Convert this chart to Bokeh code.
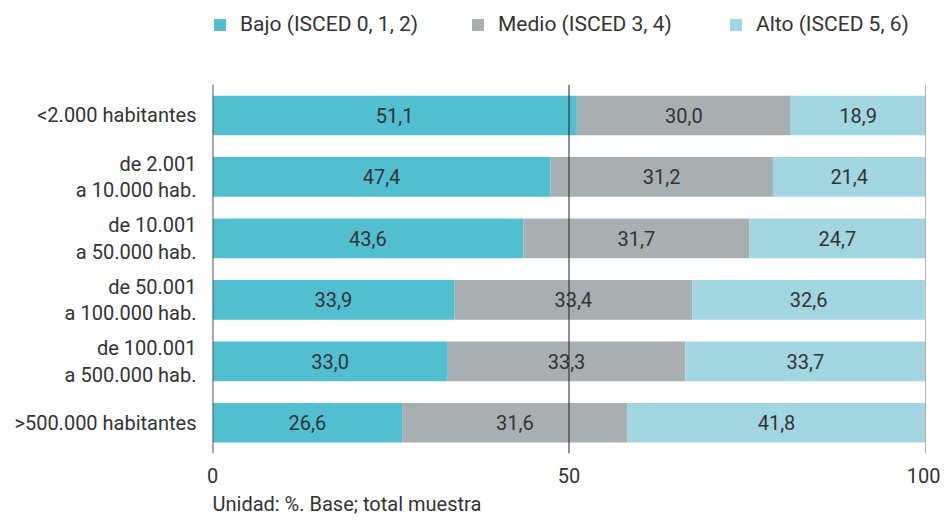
from bokeh.plotting import figure
from bokeh.models import (Range1d, Legend, LegendItem, Title, ColumnDataSource, FixedTicker)
from bokeh.core.properties import value
from bokeh.embed import file_html
from bokeh.resources import INLINE

categories = ["<2.000 habitantes", "de 2.001\na 10.000 hab.", "de 10.001\na 50.000 hab.",
              "de 50.001\na 100.000 hab.", "de 100.001\na 500.000 hab.", ">500.000 habitantes"]
bajo = [51.1, 47.4, 43.6, 33.9, 33.0, 26.6]
medio = [30.0, 31.2, 31.7, 33.4, 33.3, 31.6]
alto = [18.9, 21.4, 24.7, 32.6, 33.7, 41.8]
series_names = ["Bajo (ISCED 0, 1, 2)", "Medio (ISCED 3, 4)", "Alto (ISCED 5, 6)"]
colors = ["#52BFD1", "#A8AFB2", "#A2D7E2"]
x_ticks = [0, 50, 100]
note = "Unidad: %. Base; total muestra"

FONT = "Roboto"
TXT = "#333333"

n = len(categories)
ypos = [n - 1 - i for i in range(n)]  # first category on top

# extra room at the top of the frame holds the legend
p = figure(width=940, height=520, output_backend="svg", toolbar_location=None,
           y_range=Range1d(-0.5, n - 0.5 + 1.371), x_range=Range1d(0, 100),
           min_border_left=212, min_border_right=15, min_border_top=0, min_border_bottom=0)
p.outline_line_color = None
p.grid.visible = False

src = ColumnDataSource(dict(y=ypos, bajo=bajo, medio=medio, alto=alto))
keys = ["bajo", "medio", "alto"]
rs = p.hbar_stack(keys, y="y", height=0.645, color=colors, source=src, line_color=None)

# value labels
mid_b = [b / 2 for b in bajo]
mid_m = [b + m / 2 for b, m in zip(bajo, medio)]
mid_a = [b + m + a / 2 for b, m, a in zip(bajo, medio, alto)]
fmt = lambda v: f"{v:.1f}".replace(".", ",")
for mids, vals in [(mid_b, bajo), (mid_m, medio), (mid_a, alto)]:
    p.text(x=mids, y=ypos, text=[fmt(v) for v in vals], text_align="center",
           text_baseline="middle", text_font=value(FONT), text_font_size="20px",
           text_color=TXT)

# vertical reference lines at the tick values, across the bar area
line_colors = ["#555555", "#222222", "#777777"]
line_widths = [2, 1, 1]
p.segment(x0=x_ticks, x1=x_ticks, y0=[-0.5] * len(x_ticks), y1=[n - 0.5] * len(x_ticks),
          line_color=line_colors, line_width=line_widths)

# axes
p.xaxis.ticker = FixedTicker(ticks=x_ticks)
p.xaxis.axis_line_color = None
p.xaxis.major_tick_line_color = None
p.xaxis.minor_tick_line_color = None
p.xaxis.major_tick_out = 0
p.xaxis.major_tick_in = 0
p.xaxis.major_label_standoff = 14
p.xaxis.major_label_text_font = FONT
p.xaxis.major_label_text_font_size = "20px"
p.xaxis.major_label_text_color = TXT

p.yaxis.ticker = FixedTicker(ticks=ypos)
p.yaxis.major_label_overrides = {y: c for y, c in zip(ypos, categories)}
p.yaxis.axis_line_color = None
p.yaxis.major_tick_line_color = None
p.yaxis.minor_tick_line_color = None
p.yaxis.major_tick_out = 0
p.yaxis.major_tick_in = 0
p.yaxis.major_label_standoff = 16
p.yaxis.major_label_text_font = FONT
p.yaxis.major_label_text_font_size = "20px"
p.yaxis.major_label_text_color = TXT
p.yaxis.major_label_text_line_height = 1.1

# note
p.add_layout(Title(text=note, align="left", text_font=FONT, text_font_size="20px",
                   text_font_style="normal", text_color=TXT, standoff=9), "below")

lg = Legend(items=[LegendItem(label=nm, renderers=[r]) for nm, r in zip(series_names, rs)],
            location=(0, 417), orientation="horizontal", padding=0, margin=0,
            border_line_color=None, background_fill_alpha=0,
            glyph_width=15, glyph_height=15, label_standoff=13, spacing=50, label_width=180,
            label_text_font=FONT, label_text_font_size="21px", label_text_color=TXT)
p.add_layout(lg, "center")

open("out.html", "w").write(file_html(p, INLINE))
